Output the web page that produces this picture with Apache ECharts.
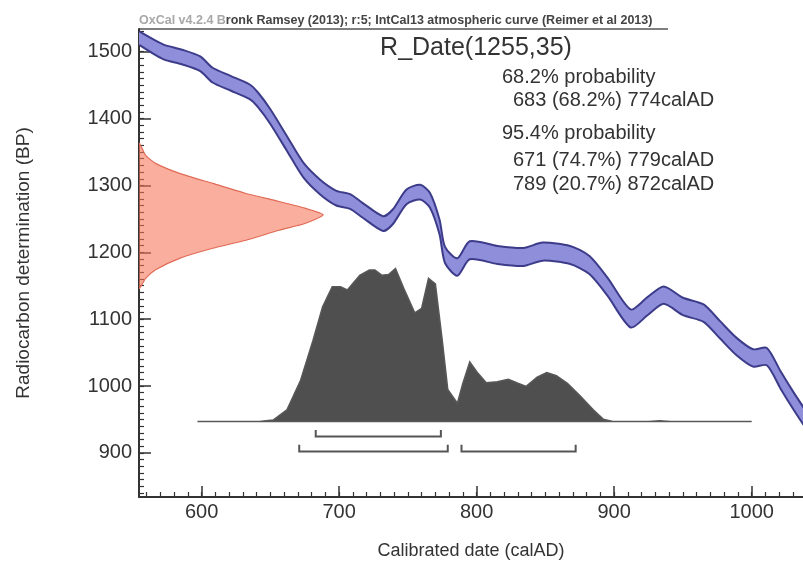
<!DOCTYPE html>
<html><head><meta charset="utf-8">
<script src="https://cdn.jsdelivr.net/npm/echarts@6/dist/echarts.min.js"></script>
<style>html,body{margin:0;padding:0;background:#fff}#c{width:803px;height:570px}</style>
</head><body><div id="c"></div>
<script>
// ---- Calibration curve (IntCal13): calendar year, mean BP, 1-sigma half width ----
const curveYears = [555,572,586,599,608,621,635,641,650,662,674,686,698,708,717,732,739,749,759,766,773,777,786,795,815,834,848,868,882,895,912,924,936,950,965,977,989,1001,1011,1021,1030,1038];
const curveBP    = [1520,1500,1492,1482,1465,1453,1440,1428,1403,1363,1323,1298,1281,1276,1263,1243,1253,1283,1290,1278,1238,1196,1178,1203,1196,1193,1201,1196,1181,1149,1101,1119,1136,1119,1109,1084,1059,1042,1044,1009,979,954];
const curveSigma = [10,11,11,11,11,11,11,11,11,11,11,11,11,11,11,11,11,11,11,11,11,12,13,13.5,13.5,13.5,13.5,13.5,13.5,13.5,13.5,13.5,13,13,13,13,13,13,13,13,13,13];

// ---- Radiocarbon measurement R_Date(1255,35): BP and relative probability ----
const likeBP   = [1363,1345,1333,1318,1303,1288,1276,1266,1256,1243,1233,1218,1206,1191,1174,1161,1146];
const likeProb = [0,0.036,0.09,0.22,0.40,0.58,0.76,0.90,1.0,0.90,0.76,0.58,0.40,0.22,0.09,0.036,0];

// ---- Calibrated (posterior) distribution: calendar year and relative probability ----
const postYears = [597,642,652,662,672,681,688,695,701,706,715,722,726,731,736,741,747,755,760,765,770,775,779,786,790,795,801,807,815,823,830,836,844,851,858,866,875,885,892,899,925,933,941,1000];
const postProb  = [0,0,0.01,0.076,0.27,0.53,0.75,0.88,0.88,0.86,0.956,0.99,0.99,0.956,0.96,1.0,0.87,0.71,0.74,0.935,0.90,0.53,0.21,0.12,0.25,0.39,0.315,0.254,0.26,0.276,0.25,0.23,0.29,0.32,0.30,0.25,0.17,0.076,0.016,0,0,0.006,0,0];

// ---- Highest probability ranges ----
const range68 = [[683,774]];
const range95 = [[671,779],[789,872]];

// ---- Tick labels ----
const xTicks = [600,700,800,900,1000];
const yTicks = [900,1000,1100,1200,1300,1400,1500];

// ---- Text ----
const headerFaded = 'OxCal v4.2.4 B';
const headerText = 'ronk Ramsey (2013); r:5; IntCal13 atmospheric curve (Reimer et al 2013)';
const titleText = 'R_Date(1255,35)';
const probLines = ['68.2% probability','683 (68.2%) 774calAD','95.4% probability','671 (74.7%) 779calAD','789 (20.7%) 872calAD'];

// ---- layout (not data) ----
const FONT = '"Liberation Sans", Arial, sans-serif';
const xMin = 554.5, xMax = 1037.3, yMin = 834, yMax = 1534;
const POST_BASE = 946.8, POST_H = 229;   // BP units used to draw posterior
const LIKE_W = 134;                       // years used to draw likelihood
const xMinor = []; for (let v = 560; v <= 1030; v += 10) xMinor.push(v);
const yMinor = []; for (let v = 840; v <= 1530; v += 10) yMinor.push(v);

const upper = curveYears.map((x,i)=>[x, curveBP[i]+curveSigma[i]]);
const lower = curveYears.map((x,i)=>[x, curveBP[i]-curveSigma[i]]);
const likePts = likeBP.map((b,i)=>[xMin + likeProb[i]*LIKE_W, b]);
const postPts = postYears.map((x,i)=>[x, POST_BASE + postProb[i]*POST_H]);

function customSeries(z, build){
  return {type:'custom', coordinateSystem:'cartesian2d', xAxisIndex:0, yAxisIndex:0, silent:true, z, clip:true,
    data:[[xMin, yMin]], renderItem:(p, api)=>build(api)};
}
const C = (api, pts)=>pts.map(p=>api.coord(p));
const plain = v => String(v);

const chart = echarts.init(document.getElementById('c'), null, {renderer:'canvas'});
const axisCommon = {type:'value', splitLine:{show:false}};
chart.setOption({
  animation:false,
  grid:{left:139, right:0, top:29, bottom:73},
  xAxis:[
    Object.assign({}, axisCommon, {min:xMin, max:xMax, position:'bottom',
      axisLine:{show:true, lineStyle:{color:'#333', width:2}},
      axisTick:{show:true, inside:true, length:11, customValues:xTicks, lineStyle:{color:'#333', width:1.5}},
      axisLabel:{customValues:xTicks, formatter:plain, fontSize:20, color:'#333', margin:5, fontFamily:FONT},
      name:'Calibrated date (calAD)', nameLocation:'middle', nameGap:45,
      nameTextStyle:{fontSize:18, color:'#333', fontFamily:FONT}}),
    Object.assign({}, axisCommon, {min:xMin, max:xMax, position:'bottom',
      axisLine:{show:false},
      axisTick:{show:true, inside:true, length:5, customValues:xMinor, lineStyle:{color:'#333', width:1.2}},
      axisLabel:{show:false}})
  ],
  yAxis:[
    Object.assign({}, axisCommon, {min:yMin, max:yMax, position:'left',
      axisLine:{show:true, lineStyle:{color:'#333', width:2}},
      axisTick:{show:true, inside:true, length:12, customValues:yTicks, lineStyle:{color:'#333', width:1.5}},
      axisLabel:{customValues:yTicks, formatter:plain, fontSize:20, color:'#333', margin:7, fontFamily:FONT},
      name:'Radiocarbon determination (BP)', nameLocation:'middle', nameGap:106,
      nameTextStyle:{fontSize:19, color:'#333', fontFamily:FONT}}),
    Object.assign({}, axisCommon, {min:yMin, max:yMax, position:'left',
      axisLine:{show:false},
      axisTick:{show:true, inside:true, length:5, customValues:yMinor, lineStyle:{color:'#333', width:1.2}},
      axisLabel:{show:false}})
  ],
  series:[
    // calibration curve band
    customSeries(3, api=>({type:'group', children:[
      {type:'polygon', shape:{points:C(api, upper.concat(lower.slice().reverse())), smooth:0.25}, style:{fill:'#8e8edb', stroke:null}},
      {type:'polyline', shape:{points:C(api, upper), smooth:0.25}, style:{stroke:'#3c3c8a', lineWidth:2, fill:null}},
      {type:'polyline', shape:{points:C(api, lower), smooth:0.25}, style:{stroke:'#3c3c8a', lineWidth:2, fill:null}}
    ]})),
    // radiocarbon likelihood
    customSeries(4, api=>({type:'polygon', shape:{points:C(api, likePts), smooth:0.2},
      style:{fill:'rgba(246,118,88,0.58)', stroke:'#e06a55', lineWidth:1.2}})),
    // posterior
    customSeries(4, api=>({type:'polygon', shape:{points:C(api, postPts)},
      style:{fill:'#4f4f4f', stroke:'#585858', lineWidth:1.5}})),
    // range brackets
    customSeries(5, api=>{
      const children = [];
      const br = (a, b, yLine, yTop)=>{
        children.push({type:'polyline', shape:{points:C(api, [[a,yTop],[a,yLine],[b,yLine],[b,yTop]])},
          style:{stroke:'#555', lineWidth:2, fill:null}});
      };
      range68.forEach(r=>br(r[0], r[1], 924.4, 934.4));
      range95.forEach(r=>br(r[0], r[1], 901.9, 912));
      return {type:'group', children};
    })
  ],
  graphic:[
    {type:'text', x:139, y:21, style:{text:'{a|'+headerFaded+'}{b|'+headerText+'}', verticalAlign:'middle',
      rich:{a:{fontSize:12.5, fontWeight:'bold', fill:'#a8a8a8', fontFamily:FONT}, b:{fontSize:12.5, fontWeight:'bold', fill:'#444', fontFamily:FONT}}}},
    {type:'line', shape:{x1:139, y1:29, x2:668, y2:29}, style:{stroke:'#555', lineWidth:1.5}},
    {type:'text', x:476, y:48, style:{text:titleText, fontSize:25, fill:'#333', fontFamily:FONT, align:'center', verticalAlign:'middle'}},
    {type:'text', x:502, y:77, style:{text:probLines[0], fontSize:20, fill:'#333', fontFamily:FONT, verticalAlign:'middle'}},
    {type:'text', x:513, y:100, style:{text:probLines[1], fontSize:20, fill:'#333', fontFamily:FONT, verticalAlign:'middle'}},
    {type:'text', x:502, y:133, style:{text:probLines[2], fontSize:20, fill:'#333', fontFamily:FONT, verticalAlign:'middle'}},
    {type:'text', x:513, y:160, style:{text:probLines[3], fontSize:20, fill:'#333', fontFamily:FONT, verticalAlign:'middle'}},
    {type:'text', x:513, y:184, style:{text:probLines[4], fontSize:20, fill:'#333', fontFamily:FONT, verticalAlign:'middle'}}
  ]
});
</script></body></html>
